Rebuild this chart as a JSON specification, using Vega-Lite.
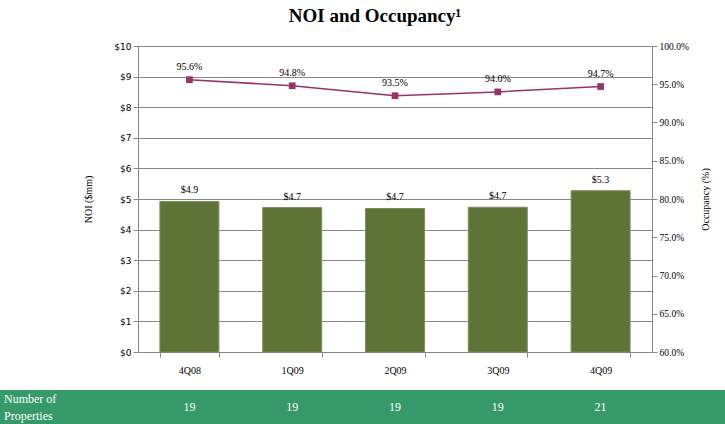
{
  "$schema": "https://vega.github.io/schema/vega-lite/v6.json",
  "width": 514,
  "height": 306,
  "autosize": {"type": "none"},
  "padding": {"left": 138, "top": 46, "right": 73, "bottom": 72},
  "background": "white",
  "config": {
    "view": {"stroke": null},
    "font": "Liberation Serif"
  },
  "title": {
    "text": "NOI and Occupancy¹",
    "font": "Liberation Serif",
    "fontSize": 19,
    "fontWeight": "bold",
    "color": "#000000",
    "anchor": "middle",
    "dx": -20,
    "offset": 15
  },
  "data": {
    "values": [
      {"quarter": "4Q08", "noi": 4.92, "noiLabel": "$4.9", "occ": 0.956, "props": 19},
      {"quarter": "1Q09", "noi": 4.72, "noiLabel": "$4.7", "occ": 0.948, "props": 19},
      {"quarter": "2Q09", "noi": 4.69, "noiLabel": "$4.7", "occ": 0.935, "props": 19},
      {"quarter": "3Q09", "noi": 4.73, "noiLabel": "$4.7", "occ": 0.940, "props": 19},
      {"quarter": "4Q09", "noi": 5.27, "noiLabel": "$5.3", "occ": 0.947, "props": 21}
    ]
  },
  "layer": [
    {
      "encoding": {
        "x": {
          "field": "quarter", "type": "nominal", "sort": null,
          "scale": {"paddingInner": 0.426, "paddingOuter": 0.213},
          "axis": {
            "title": null, "labelAngle": 0, "labelFont": "Liberation Serif", "labelFontSize": 10,
            "labelColor": "#000000", "labelPadding": 8, "tickBand": "extent", "tickSize": 5,
            "tickColor": "#888888", "domainColor": "#888888", "grid": false
          }
        },
        "y": {
          "field": "noi", "type": "quantitative",
          "scale": {"domain": [0, 10]},
          "axis": {
            "title": "NOI ($mm)", "titleFont": "Liberation Serif", "titleFontSize": 10,
            "titleFontWeight": "normal", "titleColor": "#000000", "titlePadding": 20,
            "values": [0,1,2,3,4,5,6,7,8,9,10], "labelExpr": "'$' + datum.value",
            "labelFont": "DejaVu Sans", "labelFontSize": 9, "labelColor": "#000000",
            "tickSize": 5, "tickColor": "#888888", "domainColor": "#888888",
            "grid": true, "gridColor": "#888888", "gridWidth": 1, "gridOpacity": 1
          }
        }
      },
      "layer": [
        {"mark": {"type": "bar", "color": "#5e7336", "stroke": "#7f8d63", "strokeWidth": 1}},
        {
          "mark": {"type": "text", "baseline": "bottom", "dy": -6, "font": "Liberation Serif", "fontSize": 10, "color": "#000000"},
          "encoding": {"text": {"field": "noiLabel"}}
        }
      ]
    },
    {
      "encoding": {
        "x": {
          "field": "quarter", "type": "nominal", "sort": null,
          "scale": {"paddingInner": 0.426, "paddingOuter": 0.213},
          "axis": null
        },
        "y": {
          "field": "occ", "type": "quantitative",
          "scale": {"domain": [0.6, 1.0]},
          "axis": {
            "orient": "right", "title": "Occupancy (%)", "titleFont": "Liberation Serif", "titleFontSize": 10,
            "titleFontWeight": "normal", "titleColor": "#000000", "titlePadding": 22, "titleAngle": 270,
            "format": ".1%", "values": [0.6,0.65,0.7,0.75,0.8,0.85,0.9,0.95,1.0],
            "labelFont": "Liberation Serif", "labelFontSize": 9.5, "labelColor": "#000000",
            "tickSize": 5, "tickColor": "#888888", "domainColor": "#888888", "grid": false
          }
        }
      },
      "layer": [
        {"mark": {"type": "line", "color": "#993366", "strokeWidth": 1.5}},
        {"mark": {"type": "square", "color": "#993366", "size": 45, "opacity": 1, "filled": true}},
        {
          "mark": {"type": "text", "baseline": "bottom", "dy": -8, "font": "Liberation Serif", "fontSize": 10, "color": "#000000"},
          "encoding": {"text": {"field": "occ", "format": ".1%"}}
        }
      ]
    },
    {
      "layer": [
        {
          "mark": {"type": "rect", "color": "#36996a"},
          "encoding": {
            "x": {"datum": 0, "type": "quantitative", "scale": {"domain": [0, 1], "range": [-138, 587]}, "axis": null},
            "x2": {"datum": 1},
            "y": {"datum": 0, "type": "quantitative", "scale": {"domain": [0, 1], "range": [378, 344]}, "axis": null},
            "y2": {"datum": 1}
          }
        },
        {
          "data": {"values": [{"rowLabel": "Number of\nProperties"}]},
          "mark": {"type": "text", "align": "left", "baseline": "middle", "dx": 4, "dy": -8.5, "lineBreak": "\n", "lineHeight": 17, "font": "Liberation Serif", "fontSize": 12, "color": "#ffffff"},
          "encoding": {
            "x": {"datum": 0, "type": "quantitative", "scale": {"domain": [0, 1], "range": [-138, 587]}, "axis": null},
            "y": {"datum": 0.5, "type": "quantitative", "scale": {"domain": [0, 1], "range": [378, 344]}, "axis": null},
            "text": {"field": "rowLabel"}
          }
        },
        {
          "mark": {"type": "text", "baseline": "middle", "font": "Liberation Serif", "fontSize": 12, "color": "#ffffff"},
          "encoding": {
            "x": {"field": "quarter", "type": "nominal", "sort": null, "scale": {"paddingInner": 0.426, "paddingOuter": 0.213}, "axis": null},
            "y": {"datum": 0.5, "type": "quantitative", "scale": {"domain": [0, 1], "range": [378, 344]}, "axis": null},
            "text": {"field": "props"}
          }
        }
      ],
      "resolve": {"scale": {"x": "independent"}}
    }
  ],
  "resolve": {"scale": {"x": "independent", "y": "independent"}}
}
